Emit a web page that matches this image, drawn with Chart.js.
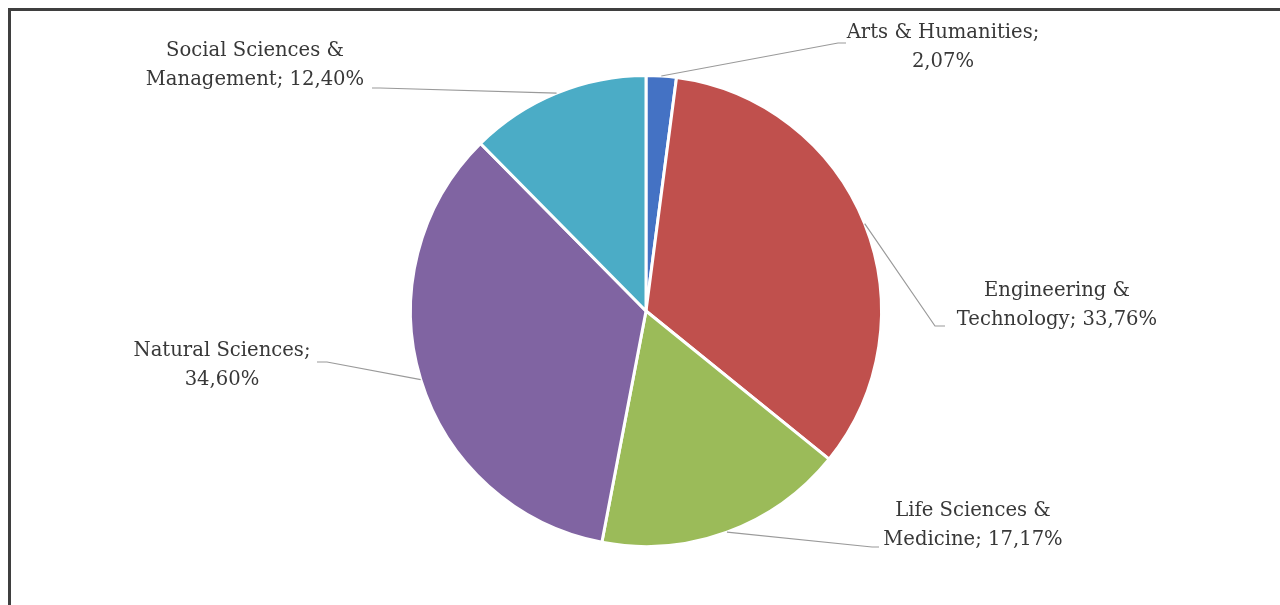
<!DOCTYPE html>
<html>
<head>
<meta charset="utf-8">
<script src="https://cdn.jsdelivr.net/npm/chart.js@4"></script>
<style>
    html, body { margin: 0; padding: 0; background: #fff; }
    #wrap { position: relative; width: 1280px; height: 605px; }
</style>
</head>
<body>
<div id="wrap"><canvas id="pieChart" width="1280" height="605"></canvas></div>
<script>
// Share of publications by field
const fields = [
    'Arts & Humanities',
    'Engineering & Technology',
    'Life Sciences & Medicine',
    'Natural Sciences',
    'Social Sciences & Management'
];
const shares = [2.07, 33.76, 17.17, 34.60, 12.40];
const sliceColors = ['#4472C4', '#C0504D', '#9BBB59', '#8064A2', '#4BACC6'];

// label text split over two lines, as laid out next to each slice
const labelLines = [
    ['Arts & Humanities;', '2,07%'],
    ['Engineering &', 'Technology; 33,76%'],
    ['Life Sciences &', 'Medicine; 17,17%'],
    ['Natural Sciences;', '34,60%'],
    ['Social Sciences &', 'Management; 12,40%']
];

// where each label sits and where its leader line bends
const labelPlaces = [
    { x: 943, y: 33, elbow: [838, 43], end: [846, 43] },
    { x: 1057, y: 291, elbow: [935, 326], end: [945, 326] },
    { x: 973, y: 511, elbow: [872, 547], end: [879, 547] },
    { x: 222, y: 351, elbow: [327, 362], end: [317, 362] },
    { x: 255, y: 51, elbow: [380, 88], end: [372, 88] }
];

const framePlugin = {
    id: 'frame',
    beforeDraw(chart) {
        const ctx = chart.ctx;
        ctx.save();
        ctx.strokeStyle = '#3f3f3f';
        ctx.lineWidth = 3;
        ctx.strokeRect(9.5, 9.5, 1400, 800);
        ctx.restore();
    }
};

const labelPlugin = {
    id: 'sliceLabels',
    afterDatasetsDraw(chart) {
        const ctx = chart.ctx;
        const meta = chart.getDatasetMeta(0);
        ctx.save();
        meta.data.forEach((arc, i) => {
            const p = arc.getProps(['x', 'y', 'startAngle', 'endAngle', 'outerRadius'], true);
            const mid = (p.startAngle + p.endAngle) / 2;
            const ax = p.x + Math.cos(mid) * p.outerRadius;
            const ay = p.y + Math.sin(mid) * p.outerRadius;
            const place = labelPlaces[i];

            ctx.strokeStyle = '#9a9a9a';
            ctx.lineWidth = 1.2;
            ctx.beginPath();
            ctx.moveTo(ax, ay);
            ctx.lineTo(place.elbow[0], place.elbow[1]);
            ctx.lineTo(place.end[0], place.end[1]);
            ctx.stroke();

            ctx.fillStyle = '#383838';
            ctx.font = '19.6px "DejaVu Serif"';
            ctx.textAlign = 'center';
            ctx.textBaseline = 'middle';
            labelLines[i].forEach((line, k) => {
                ctx.fillText(line, place.x, place.y + k * 29);
            });
        });
        ctx.restore();
    }
};

new Chart(document.getElementById('pieChart'), {
    type: 'pie',
    data: {
        labels: fields,
        datasets: [{
            data: shares,
            backgroundColor: sliceColors,
            borderColor: '#ffffff',
            borderWidth: 3
        }]
    },
    options: {
        responsive: false,
        animation: false,
        layout: { padding: { top: 74, bottom: 57, left: 12, right: 0 } },
        plugins: {
            legend: { display: false },
            tooltip: { enabled: false }
        }
    },
    plugins: [framePlugin, labelPlugin]
});
</script>
</body>
</html>
